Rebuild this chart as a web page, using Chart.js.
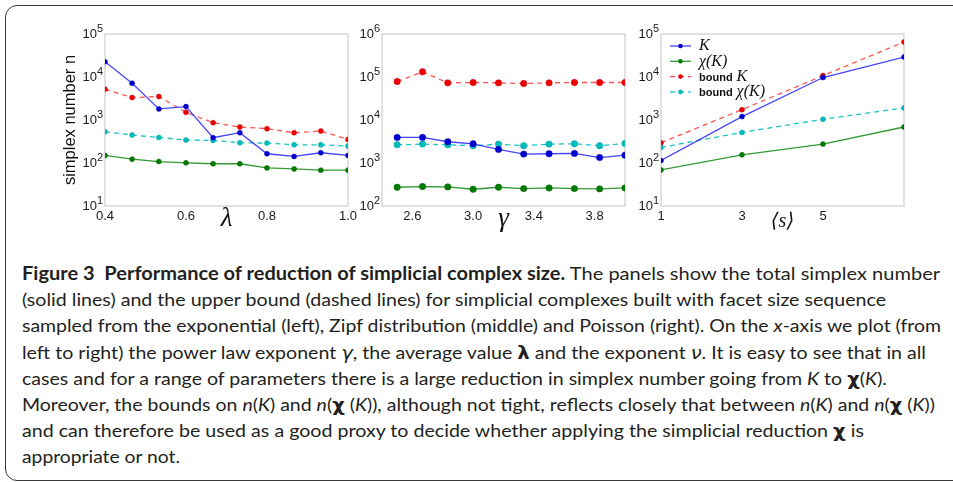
<!DOCTYPE html>
<html>
<head>
<meta charset="utf-8">
<script src="https://cdn.jsdelivr.net/npm/chart.js@4.4.0/dist/chart.umd.min.js"></script>
<style>
  body { margin: 0; width: 953px; height: 482px; overflow: hidden; background: #fff; position: relative; }
  #frame { position: absolute; left: 5px; top: 5px; width: 980px; height: 476px; border: 1.5px solid #3a3a3a; border-radius: 12px; box-sizing: border-box; }
  canvas { position: absolute; top: 0; }
  #caption { position: absolute; left: 22px; top: 260px; font-family: Lato, "Open Sans", sans-serif; font-size: 18px; line-height: 26.2px; color: #231f20; white-space: nowrap; }
  #caption div { display: block; height: 26.2px; }
  #caption span.line { display: inline-block; transform-origin: 0 50%; }
  .gk { font-family: "DejaVu Sans", sans-serif; }
</style>
</head>
<body>
<div id="frame"></div>
<canvas id="expChart" width="360" height="235" style="left:0px"></canvas>
<canvas id="zipfChart" width="300" height="235" style="left:340px"></canvas>
<canvas id="poiChart" width="320" height="235" style="left:620px"></canvas>

<div id="caption">
  <div><span class="line"><b>Figure 3&nbsp; Performance of reduction of simplicial complex size.</b> The panels show the total simplex number</span></div>
  <div><span class="line">(solid lines) and the upper bound (dashed lines) for simplicial complexes built with facet size sequence</span></div>
  <div><span class="line">sampled from the exponential (left), Zipf distribution (middle) and Poisson (right). On the <i>x</i>-axis we plot (from</span></div>
  <div><span class="line">left to right) the power law exponent <i class="gk">γ</i>, the average value <b class="gk">λ</b> and the exponent <i class="gk">ν</i>. It is easy to see that in all</span></div>
  <div><span class="line">cases and for a range of parameters there is a large reduction in simplex number going from <i>K</i> to <b class="gk">χ</b>(<i>K</i>).</span></div>
  <div><span class="line">Moreover, the bounds on <i>n</i>(<i>K</i>) and <i>n</i>(<b class="gk">χ</b> (<i>K</i>)), although not tight, reflects closely that between <i>n</i>(<i>K</i>) and <i>n</i>(<b class="gk">χ</b> (<i>K</i>))</span></div>
  <div><span class="line">and can therefore be used as a good proxy to decide whether applying the simplicial reduction <b class="gk">χ</b> is</span></div>
  <div><span class="line">appropriate or not.</span></div>
</div>

<script>
// left panel: exponential, x = lambda
var lambdaVals = [0.4, 0.467, 0.533, 0.6, 0.667, 0.733, 0.8, 0.867, 0.933, 1.0];
var expK = [22600, 7180, 1810, 2050, 387, 506, 164, 142, 173, 150];
var expChiK = [150, 123, 108, 101, 96, 96, 77, 73, 68, 68];
var expBoundK = [5200, 3320, 3510, 1510, 867, 687, 628, 506, 554, 354];
var expBoundChiK = [535, 447, 394, 341, 335, 296, 290, 265, 265, 247];

// middle panel: zipf, x = gamma
var gammaVals = [2.5, 2.667, 2.833, 3.0, 3.167, 3.333, 3.5, 3.667, 3.833, 4.0];
var zipfK = [3940, 3940, 3120, 2800, 2070, 1610, 1640, 1670, 1340, 1520];
var zipfChiK = [273, 283, 278, 245, 273, 254, 263, 254, 250, 263];
var zipfBoundK = [78500, 132000, 73100, 74500, 73100, 70500, 73100, 74500, 74500, 74500];
var zipfBoundChiK = [2650, 2750, 2650, 2520, 2750, 2520, 2750, 2800, 2520, 2850];

// right panel: poisson, x = <s>
var sVals = [1, 3, 5, 7];
var poiK = [114, 1200, 9730, 29000];
var poiChiK = [69, 155, 275, 687];
var poiBoundK = [296, 1740, 10800, 65100];
var poiBoundChiK = [230, 515, 1040, 1910];

var seriesNames = ['K', 'χ(K)', 'bound K', 'bound χ(K)'];

var xTicksExp = [0.4, 0.6, 0.8, 1.0];
var xTicksZipf = [2.6, 3.0, 3.4, 3.8];
var xTicksPoi = [1, 3, 5];
var yTicksExp = [10, 100, 1000, 10000, 100000];
var yTicksZipf = [100, 1000, 10000, 100000, 1000000];
var yTicksPoi = [10, 100, 1000, 10000, 100000];

var SANS = '"Liberation Sans", Arial, sans-serif';
var SERIF = '"Liberation Serif", "DejaVu Serif", serif';
var tickFont = { family: SANS, size: 13 };

var framePlugin = {
  id: 'frame',
  beforeDatasetsDraw: function(chart) {
    var ctx = chart.ctx, a = chart.chartArea;
    ctx.save();
    ctx.strokeStyle = '#d8d8d8';
    ctx.lineWidth = 1.5;
    ctx.strokeRect(a.left, a.top, a.right - a.left, a.bottom - a.top);
    ctx.restore();
  }
};

// y tick labels as 10 with a raised exponent, placed by the log scale
var powLabelPlugin = {
  id: 'powLabels',
  afterDraw: function(chart) {
    var s = chart.scales.y, ctx = chart.ctx;
    var xr = chart.chartArea.left - 2;
    ctx.save();
    ctx.fillStyle = '#1a1a1a';
    ctx.textBaseline = 'middle';
    ctx.textAlign = 'left';
    s.ticks.forEach(function(t) {
      var y = s.getPixelForValue(t.value);
      var e = String(Math.round(Math.log10(t.value)));
      ctx.font = '11px ' + SANS;
      var ew = ctx.measureText(e).width;
      ctx.fillText(e, xr - ew, y - 5);
      ctx.font = '13px ' + SANS;
      var bw = ctx.measureText('10').width;
      ctx.fillText('10', xr - ew - bw, y + 0.5);
    });
    ctx.restore();
  }
};

var legendPlugin = {
  id: 'insideLegend',
  afterDraw: function(chart) {
    var ctx = chart.ctx, a = chart.chartArea;
    chart.data.datasets.forEach(function(ds, i) {
      var y = a.top + 12 + i * 15.3;
      var x0 = a.left + 9, x1 = a.left + 30;
      ctx.save();
      ctx.strokeStyle = ds.borderColor;
      ctx.lineWidth = ds.borderWidth;
      ctx.setLineDash(ds.borderDash || []);
      ctx.beginPath(); ctx.moveTo(x0, y); ctx.lineTo(x1, y); ctx.stroke();
      ctx.setLineDash([]);
      ctx.fillStyle = ds.pointBackgroundColor;
      ctx.beginPath(); ctx.arc((x0 + x1) / 2, y, 2.3, 0, Math.PI * 2); ctx.fill();
      var tx = a.left + 38;
      var label = ds.label;
      ctx.textBaseline = 'middle';
      ctx.fillStyle = '#111';
      if (label.indexOf('bound ') === 0) {
        ctx.font = 'bold 11px ' + SANS;
        ctx.fillText('bound', tx, y + 1);
        tx += ctx.measureText('bound').width + 4;
        label = label.slice(6);
      }
      ctx.font = 'italic 16px ' + SERIF;
      ctx.fillText(label, tx, y);
      ctx.restore();
    });
  }
};

function makeDatasets(xs, k, chi, bk, bchi, r) {
  function pts(ys) { return xs.map(function(x, i) { return { x: x, y: ys[i] }; }); }
  return [
    { label: seriesNames[0], data: pts(k), borderColor: 'rgba(35,35,255,0.85)', pointBackgroundColor: '#0000cc', pointBorderColor: '#0000cc', borderWidth: 1.3, pointRadius: r, pointBorderWidth: 0.5 },
    { label: seriesNames[1], data: pts(chi), borderColor: 'rgba(0,128,0,0.8)', pointBackgroundColor: '#007a00', pointBorderColor: '#006600', borderWidth: 1.3, pointRadius: r, pointBorderWidth: 0.5 },
    { label: seriesNames[2], data: pts(bk), borderColor: 'rgba(255,40,40,0.8)', borderDash: [5, 4], pointBackgroundColor: '#ee0000', pointBorderColor: '#cc0000', borderWidth: 1.3, pointRadius: r, pointBorderWidth: 0.5 },
    { label: seriesNames[3], data: pts(bchi), borderColor: 'rgba(0,190,190,0.9)', borderDash: [5, 4], pointBackgroundColor: '#00bcbc', pointBorderColor: '#00a0a0', borderWidth: 1.3, pointRadius: r, pointBorderWidth: 0.5 }
  ];
}

function makeChart(id, o) {
  var canvas = document.getElementById(id);
  var W = canvas.width;
  var plugins = [framePlugin, powLabelPlugin];
  if (o.legend) plugins.push(legendPlugin);
  return new Chart(canvas, {
    type: 'line',
    data: { datasets: makeDatasets(o.xs, o.k, o.chi, o.bk, o.bchi, o.r) },
    options: {
      responsive: false,
      animation: false,
      devicePixelRatio: 1,
      layout: { padding: { left: 0, right: W - o.right, top: 34, bottom: 0 } },
      plugins: { legend: { display: false }, tooltip: { enabled: false } },
      elements: { line: { tension: 0 } },
      scales: {
        x: {
          type: 'linear', min: o.xmin, max: o.xmax,
          grid: { display: false, drawTicks: false }, border: { display: false },
          afterBuildTicks: function(s) { s.ticks = o.xt.map(function(v) { return { value: v }; }); },
          afterFit: function(s) { s.height = 235 - 206; },
          ticks: { padding: 3, font: tickFont, color: '#1a1a1a', maxRotation: 0, autoSkip: false,
                   callback: function(v) { return o.fmt(v); } },
          title: { display: true, text: o.xTitle, color: '#111',
                   font: { family: SERIF, size: o.xTitleSize, style: 'italic' },
                   padding: { top: 0, bottom: o.xTitlePad } }
        },
        y: {
          type: 'logarithmic', min: o.ymin, max: o.ymax,
          grid: { display: false, drawTicks: false }, border: { display: false },
          afterBuildTicks: function(s) { s.ticks = o.yt.map(function(v) { return { value: v }; }); },
          afterFit: function(s) { s.width = o.left; },
          ticks: { display: false },
          title: { display: !!o.yTitle, text: o.yTitle || '', color: '#111',
                   font: { family: SANS, size: 16.5 },
                   padding: { top: 61, bottom: 0 } }
        }
      }
    },
    plugins: plugins
  });
}

makeChart('expChart', {
  xs: lambdaVals, k: expK, chi: expChiK, bk: expBoundK, bchi: expBoundChiK, r: 2.5,
  left: 105, right: 348, xmin: 0.4, xmax: 1.0, ymin: 10, ymax: 100000,
  xt: xTicksExp, yt: yTicksExp, fmt: function(v) { return v.toFixed(1); },
  xTitle: 'λ', xTitleSize: 27, xTitlePad: 0, yTitle: 'simplex number n'
});

makeChart('zipfChart', {
  xs: gammaVals, k: zipfK, chi: zipfChiK, bk: zipfBoundK, bchi: zipfBoundChiK, r: 3.2,
  left: 42, right: 285, xmin: 2.4, xmax: 4.0, ymin: 100, ymax: 1000000,
  xt: xTicksZipf, yt: yTicksZipf, fmt: function(v) { return v.toFixed(1); },
  xTitle: 'γ', xTitleSize: 27, xTitlePad: 0
});

makeChart('poiChart', {
  xs: sVals, k: poiK, chi: poiChiK, bk: poiBoundK, bchi: poiBoundChiK, r: 2.5,
  left: 41, right: 284, xmin: 1, xmax: 7, ymin: 10, ymax: 100000,
  xt: xTicksPoi, yt: yTicksPoi, fmt: function(v) { return String(v); },
  xTitle: '⟨s⟩', xTitleSize: 20, xTitlePad: 1, legend: true
});

// fit each caption line to the right edge it reaches in the figure
var lineEnds = [940, 886, 941, 926, 887, 935, 864, 180];
var lines = document.querySelectorAll('#caption span.line');
lines.forEach(function(el, i) {
  var w = el.getBoundingClientRect().width;
  el.style.transform = 'scaleX(' + ((lineEnds[i] - 22) / w) + ')';
});
</script>
</body>
</html>
